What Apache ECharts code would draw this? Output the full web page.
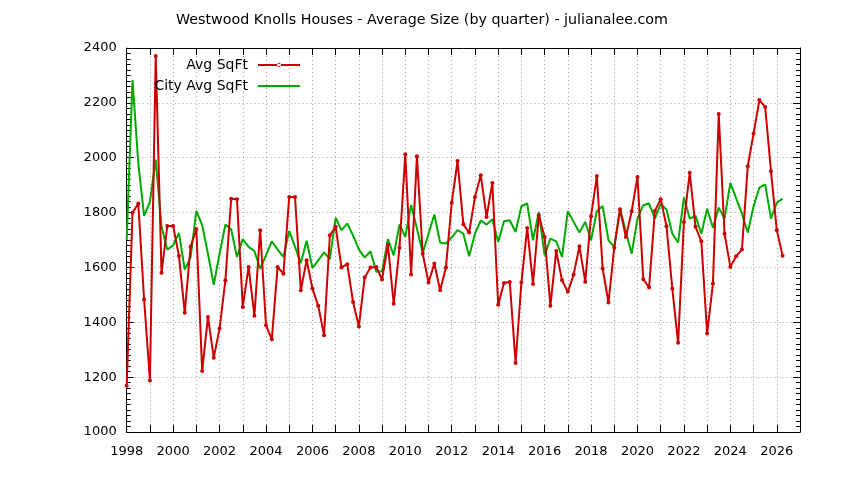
<!DOCTYPE html>
<html>
<head>
<meta charset="utf-8">
<script src="https://cdn.jsdelivr.net/npm/echarts@6/dist/echarts.min.js"></script>
<style>
html,body{margin:0;padding:0;background:#fff;}
#chart{width:844px;height:480px;}
</style>
</head>
<body>
<div id="chart"></div>
<script>
const titleText = 'Westwood Knolls Houses - Average Size (by quarter) - julianalee.com';
const seriesNames = ['Avg SqFt', 'City Avg SqFt'];
const startYear = 1998;
const quartersPerYear = 4;
const yTicks = [1000, 1200, 1400, 1600, 1800, 2000, 2200, 2400];

const avgSqFt = [
  1169, 1799, 1833, 1483,
  1188, 2371, 1581, 1751,
  1751, 1642, 1435, 1675,
  1740, 1222, 1419, 1271,
  1377, 1553, 1850, 1849,
  1456, 1602, 1424, 1736,
  1389, 1338, 1602, 1577,
  1857, 1857, 1517, 1626,
  1523, 1460, 1353, 1717,
  1748, 1600, 1612, 1474,
  1385, 1563, 1600, 1602,
  1556, 1682, 1468, 1672,
  2013, 1574, 2005, 1650,
  1545, 1614, 1517, 1600,
  1836, 1988, 1757, 1727,
  1857, 1936, 1784, 1908,
  1464, 1543, 1547, 1252,
  1545, 1744, 1540, 1790,
  1711, 1460, 1660, 1553,
  1511, 1574, 1677, 1548,
  1787, 1933, 1596, 1472,
  1672, 1812, 1711, 1805,
  1930, 1557, 1527, 1806,
  1849, 1750, 1523, 1325,
  1766, 1945, 1748, 1695,
  1359, 1541, 2159, 1723,
  1602, 1641, 1665, 1969,
  2088, 2210, 2185, 1951,
  1736, 1643
];

const cityAvgSqFt = [
  1700, 2283, 1979, 1788,
  1839, 1993, 1748, 1665,
  1681, 1726, 1592, 1636,
  1806, 1754, 1650, 1537,
  1650, 1756, 1739, 1638,
  1703, 1675, 1660, 1595,
  1644, 1695, 1666, 1638,
  1733, 1675, 1616, 1697,
  1598, 1626, 1655, 1630,
  1781, 1736, 1760, 1717,
  1666, 1636, 1659, 1584,
  1586, 1703, 1644, 1757,
  1711, 1828, 1742, 1653,
  1723, 1793, 1691, 1687,
  1710, 1736, 1723, 1641,
  1723, 1771, 1756, 1776,
  1693, 1768, 1772, 1729,
  1823, 1833, 1699, 1802,
  1644, 1705, 1695, 1638,
  1805, 1766, 1727, 1766,
  1699, 1805, 1824, 1699,
  1675, 1814, 1729, 1650,
  1778, 1827, 1833, 1778,
  1831, 1811, 1723, 1691,
  1855, 1778, 1788, 1723,
  1814, 1745, 1818, 1778,
  1908, 1852, 1796, 1727,
  1823, 1891, 1903, 1778,
  1836, 1851
];

function toPairs(arr) {
  return arr.map((v, i) => [startYear + i / quartersPerYear, v]);
}

const FONT = 'DejaVu Sans';
const RED = '#cc0000';
const GREEN = '#00aa00';
const gridLine = { show: true, lineStyle: { color: '#a0a0a0', width: 1, type: [1, 3] } };
const axisLine = { show: true, onZero: false, lineStyle: { color: '#000', width: 1 } };
const iconRed = 'path://M0,6L42,6L42,8L0,8Z M19,7a2,2 0 1,0 4,0a2,2 0 1,0 -4,0Z';
const iconGreen = 'path://M0,0L42,0L42,2L0,2Z';

const legendBase = {
  right: 544, orient: 'vertical', align: 'right', padding: 0,
  itemWidth: 42, itemHeight: 14, symbolKeepAspect: true,
  textStyle: { fontFamily: FONT, fontSize: 14, color: '#000', padding: [0, 5, 0, 0] },
  selectedMode: false
};

const chart = echarts.init(document.getElementById('chart'), null, { renderer: 'canvas' });
chart.setOption({
  animation: false,
  backgroundColor: '#fff',
  title: {
    text: titleText,
    left: 'center',
    top: 8,
    textStyle: { fontFamily: FONT, fontSize: 14.25, fontWeight: 'normal', color: '#000' }
  },
  legend: [
    Object.assign({}, legendBase, { top: 58, data: [{ name: seriesNames[0], icon: iconRed }] }),
    Object.assign({}, legendBase, { top: 79, data: [{ name: seriesNames[1], icon: iconGreen }] })
  ],
  grid: { left: 126.7, right: 44, top: 48, bottom: 48, containLabel: false },
  xAxis: [
    {
      type: 'value', position: 'bottom', min: 1998, max: 2027, interval: 1,
      axisLine: axisLine,
      axisTick: { show: true, inside: true, length: 7, lineStyle: { color: '#000' } },
      axisLabel: {
        fontFamily: FONT, fontSize: 13, color: '#000', margin: 13,
        formatter: v => (v % 2 === 0 && v < 2027) ? String(v) : ''
      },
      splitLine: gridLine
    },
    {
      type: 'value', position: 'top', min: 1998, max: 2027, interval: 1,
      axisLine: axisLine,
      axisTick: { show: true, inside: true, length: 7, lineStyle: { color: '#000' } },
      axisLabel: { show: false },
      splitLine: { show: false }
    }
  ],
  yAxis: [
    {
      type: 'value', position: 'left', min: yTicks[0], max: yTicks[yTicks.length - 1], interval: 200,
      axisLine: axisLine,
      axisTick: { show: true, inside: true, length: 7, lineStyle: { color: '#000' } },
      minorTick: { show: true, splitNumber: 10, length: 4, lineStyle: { color: '#000' } },
      axisLabel: { fontFamily: FONT, fontSize: 13, color: '#000', margin: 10, formatter: v => String(v) },
      splitLine: gridLine
    },
    {
      type: 'value', position: 'right', min: yTicks[0], max: yTicks[yTicks.length - 1], interval: 200,
      axisLine: axisLine,
      axisTick: { show: true, inside: true, length: 7, lineStyle: { color: '#000' } },
      minorTick: { show: true, splitNumber: 10, length: 4, lineStyle: { color: '#000' } },
      axisLabel: { show: false },
      splitLine: { show: false }
    }
  ],
  series: [
    {
      name: seriesNames[0], type: 'line', xAxisIndex: 0, yAxisIndex: 0,
      data: toPairs(avgSqFt),
      symbol: 'circle', symbolSize: 4, showSymbol: true,
      lineStyle: { color: RED, width: 2 },
      itemStyle: { color: RED },
      z: 3
    },
    {
      name: seriesNames[1], type: 'line', xAxisIndex: 0, yAxisIndex: 0,
      data: toPairs(cityAvgSqFt),
      symbol: 'none',
      lineStyle: { color: GREEN, width: 2 },
      itemStyle: { color: GREEN },
      z: 2
    }
  ]
});
</script>
</body>
</html>
